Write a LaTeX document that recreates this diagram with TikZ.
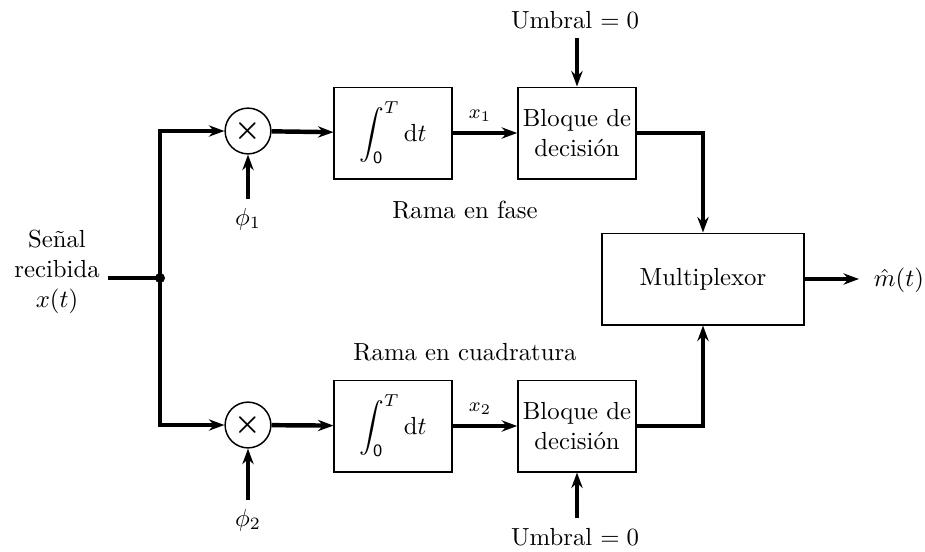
\documentclass[tikz,border=0pt]{standalone}
\usepackage{amsmath}
\usetikzlibrary{arrows.meta}

\tikzset{
  bloque/.style={draw, line width=0.6pt, minimum width=1.67cm, minimum height=1.3cm, inner sep=2pt, align=center},
  mult/.style={draw, circle, line width=0.6pt, minimum size=0.65cm, inner sep=0pt},
  senal/.style={line width=1.8pt, -{Stealth[length=0.22cm, width=0.16cm]}},
  cable/.style={line width=1.8pt}
}

\begin{document}
\begin{tikzpicture}[x=0.0142cm, y=-0.0142cm]
  \useasboundingbox (0,0) rectangle (925,551);

  % entrada
  \node[align=center] (xin) at (57,272) {Se\~nal\\recibida\\$x(t)$};
  \coordinate (nodo) at (160,278);

  % rama en fase
  \node[mult] (mult1) at (248,131) {\large$\boldsymbol{\times}$};
  \node[bloque] (int1) at (393,133) {$\displaystyle\int_{\mathsf{0}}^{T} \mathrm{d}t$};
  \node[bloque] (dec1) at (577,133) {Bloque de\\decisi\'on};
  \node (umb1) at (575,20) {Umbral $=0$};
  \coordinate (u1) at (577,38);
  \node (phi1) at (248,219) {$\phi_1$};
  \coordinate (p1) at (248,199);
  \node (x1) at (480,116) {\footnotesize$x_1$};
  \node (fase) at (465,210) {Rama en fase};

  % rama en cuadratura
  \node[mult] (mult2) at (248,425) {\large$\boldsymbol{\times}$};
  \node[bloque] (int2) at (393,426) {$\displaystyle\int_{\mathsf{0}}^{T} \mathrm{d}t$};
  \node[bloque] (dec2) at (577,426) {Bloque de\\decisi\'on};
  \node (umb2) at (575,537) {Umbral $=0$};
  \coordinate (u2) at (577,518);
  \node (phi2) at (248,520) {$\phi_2$};
  \coordinate (p2) at (248,500);
  \node (x2) at (480,409) {\footnotesize$x_2$};
  \node (cuad) at (465,352) {Rama en cuadratura};

  % salida
  \node[bloque, minimum width=2.87cm] (mux) at (703,279) {Multiplexor};
  \node[anchor=west, inner sep=1pt] (mhat) at (871,280) {$\hat{m}(t)$};
  \coordinate (fin) at (859,279);

  \draw[cable] (xin.east |- nodo) -- (nodo);
  \fill (nodo) circle (5);

  \draw[senal] (nodo) |- (mult1);
  \draw[senal] (mult1) -- (int1);
  \draw[senal] (int1) -- (dec1);
  \draw[senal] (p1) -- (mult1);
  \draw[senal] (u1) -- (dec1.north);
  \draw[senal] (dec1.east) -| (mux.north);

  \draw[senal] (nodo) |- (mult2);
  \draw[senal] (mult2) -- (int2);
  \draw[senal] (int2) -- (dec2);
  \draw[senal] (p2) -- (mult2);
  \draw[senal] (u2) -- (dec2.south);
  \draw[senal] (dec2.east) -| (mux.south);

  \draw[senal] (mux) -- (fin);

\end{tikzpicture}
\end{document}
